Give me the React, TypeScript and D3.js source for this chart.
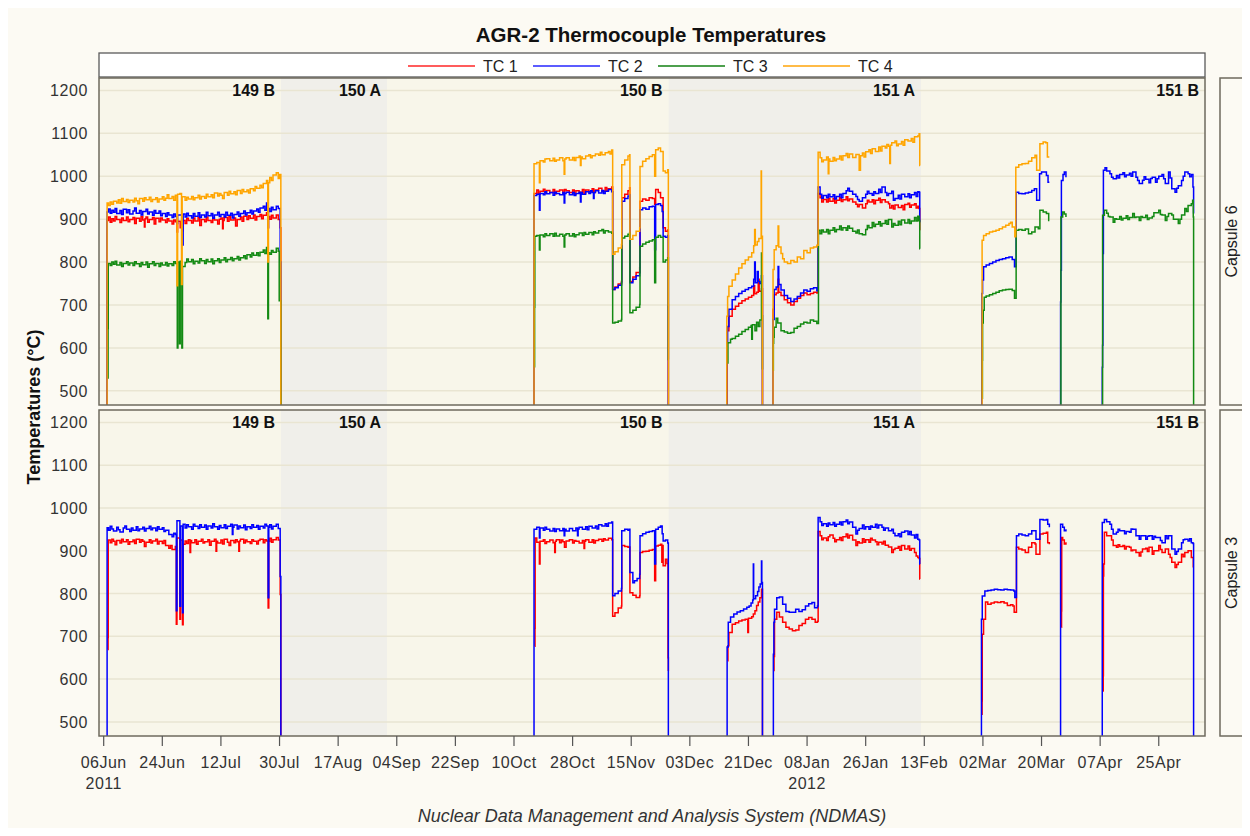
import React from "react";
import * as d3 from "d3";

type Pt = [number, number];
type Segment = Pt[];

// Day offsets below are counted from 06 Jun 2011 (UTC).
const START = Date.UTC(2011, 5, 6);
const DAY_MS = 86400000;
const dayDate = (d: number) => new Date(START + d * DAY_MS);

const chartTitle = "AGR-2 Thermocouple Temperatures";
const footerText = "Nuclear Data Management and Analysis System (NDMAS)";
const yAxisTitle = "Temperatures (°C)";
const seriesNames = ["TC 1", "TC 2", "TC 3", "TC 4"];
const seriesColors = ["#ff0000", "#0000ff", "#138a13", "#ffa500"];
const legendColors = ["#ff5c5c", "#5c5cff", "#4ea04e", "#ffbb47"];
const yTicks = [500, 600, 700, 800, 900, 1000, 1100, 1200];
const xTickDays = d3.range(0, 325, 18);
const yearLabels: { day: number; text: string }[] = [
  { day: 0, text: "2011" },
  { day: 216, text: "2012" },
];
// Reactor cycles: name, last day of the cycle, shaded (outage) or not
const cycleNames = ["149 B", "150 A", "150 B", "151 A", "151 B"];
const cycleEnds = [54.45, 87.0, 173.5, 251.0, 338.2];
const cycleShaded = [false, true, false, true, false];

// ---------------- Capsule 6 ----------------
const cap6Tc1: Segment[] = [
  [[1.0,440],[1.05,897],[1.5,905],[2,893],[2.5,901],[3,896],[3.5,906],[4,899],[5,892],[5.5,903],[6,897],[7,905],[7.5,894],[8,899],[9,904],[9.5,890],[10,902],[11,895],[11.5,906],[12,898],[12.5,882],[12.7,901],[13,905],[13.5,893],[14,899],[15,904],[15.5,889],[16,902],[17,894],[17.5,903],[18,898],[19,892],[19.5,901],[20,896],[21,889],[21.5,898],[22,894],[22.5,870],[22.7,895],[23.5,880],[24,873],[24.3,897],[25,890],[25.5,902],[26,897],[27,891],[27.5,903],[28,896],[29,904],[29.5,885],[30,899],[31,894],[31.5,905],[32,897],[33,892],[33.5,902],[34,898],[35,889],[35.5,900],[36,903],[36.5,878],[36.7,897],[37,904],[38,895],[38.5,906],[39,898],[40,903],[40.5,884],[41,899],[42,905],[42.5,895],[43,907],[44,899],[44.5,908],[45,902],[46,910],[46.5,898],[47,906],[48,911],[48.5,901],[49,909],[50,915],[50.4,880],[50.6,906],[51,900],[51.5,909],[52,903],[53,910],[53.6,899],[54.2,880],[54.4,440]],
  [[132.1,440],[132.15,960],[133,968],[133.5,958],[134,965],[135,970],[135.5,961],[136,967],[137,962],[138,969],[138.5,959],[139,965],[140,968],[141,961],[141.5,969],[142,966],[143,962],[144,968],[144.5,958],[145,966],[146,963],[147,969],[147.5,960],[148,968],[149,964],[150,971],[150.5,962],[151,968],[152,972],[153,965],[154,974],[154.5,966],[155,971],[156,975],[156.3,736],[157,742],[158,749],[159,755],[159.1,950],[160,958],[161,966],[161.5,973],[161.6,755],[162.5,765],[163.5,776],[164.6,787],[164.7,942],[165.5,947],[166.5,944],[167.5,950],[168.5,948],[169.2,935],[169.5,969],[170.3,962],[171,950],[171.8,880],[172.5,872],[173.2,875],[173.4,440]],
  [[191.4,440],[191.45,640],[192,674],[193,690],[194,697],[195,704],[196,710],[197,714],[198,718],[199,722],[199.6,745],[199.9,726],[200.5,730],[201,760],[201.3,732],[202,738],[202.3,440]],
  [[205.5,440],[205.55,690],[205.9,724],[206.5,728],[207.1,760],[207.3,730],[208,722],[209,712],[210,705],[211,700],[212,708],[213,716],[214,722],[215,728],[216,724],[217,727],[218,730],[219,728],[219.4,960],[220,950],[220.5,940],[221,946],[222,940],[222.5,949],[223,942],[224,948],[224.5,938],[225,944],[226,950],[226.5,941],[227,945],[228,952],[228.5,943],[229,947],[230,940],[231,935],[231.5,929],[232,934],[233,926],[234,936],[234.5,944],[235,940],[236,945],[236.5,936],[237,944],[238,949],[238.5,939],[239,945],[240,940],[241,936],[241.4,926],[242,932],[242.5,924],[243,933],[244,927],[245,932],[245.5,922],[246,934],[247,937],[247.5,928],[248,933],[249,936],[249.5,926],[250,930],[250.4,925],[250.6,874],[250.7,874]],
];

const cap6Tc2: Segment[] = [
  [[1.0,440],[1.05,917],[1.5,924],[2,914],[2.5,921],[3,916],[3.5,925],[4,913],[5,920],[5.5,911],[6,923],[7,915],[7.5,922],[8,912],[9,919],[9.5,926],[10,914],[11,920],[11.5,910],[12,918],[13,923],[13.5,912],[14,917],[15,909],[15.5,920],[16,914],[17,919],[17.5,908],[18,913],[19,906],[19.5,915],[20,910],[21,904],[21.5,912],[22,906],[22.5,890],[22.7,910],[24.2,840],[24.4,912],[25,905],[25.5,914],[26,908],[27,903],[27.5,913],[28,907],[29,915],[29.5,904],[30,910],[31,905],[31.5,916],[32,908],[33,913],[33.5,902],[34,910],[35,916],[35.5,906],[36,911],[37,905],[37.5,916],[38,909],[39,914],[39.5,903],[40,911],[41,917],[41.5,907],[42,913],[43,919],[43.5,910],[44,915],[45,921],[45.5,912],[46,919],[47,924],[47.5,916],[48,926],[49,930],[49.5,921],[50,938],[50.4,880],[50.6,925],[51,918],[51.5,928],[52,922],[53,930],[53.6,925],[54.2,800],[54.4,440]],
  [[132.1,440],[132.15,955],[133,958],[133.8,921],[134,960],[135,957],[135.5,964],[136,959],[137,962],[138,956],[138.5,963],[139,960],[140,957],[141,962],[141.4,938],[141.6,960],[142,963],[143,957],[144,962],[144.5,955],[145,960],[146,963],[146.4,940],[146.6,962],[147,958],[148,964],[149,960],[149.5,966],[150,962],[150.4,948],[150.6,962],[151,966],[152,961],[153,967],[153.5,960],[154,965],[155,969],[156,964],[156.3,736],[157,740],[158,746],[159,752],[159.1,942],[160,948],[161,954],[161.5,957],[161.6,752],[162.5,760],[163.5,768],[164.6,775],[164.7,922],[165.5,926],[166.5,923],[167.5,929],[168.5,930],[169.2,829],[169.5,934],[170.3,936],[171,932],[171.5,918],[171.8,860],[172.5,858],[173.2,862],[173.4,440]],
  [[191.3,440],[191.35,612],[191.6,650],[192,690],[193,712],[194,720],[195,727],[196,732],[197,736],[198,740],[199,744],[199.6,760],[199.9,800],[200.1,752],[200.7,778],[201,755],[201.5,750],[202,768],[202.3,440]],
  [[205.5,440],[205.55,666],[205.9,736],[206.5,742],[207.1,790],[207.3,748],[208,735],[209,722],[210,716],[211,708],[212,714],[213,720],[214,728],[215,735],[216,732],[217,738],[218,740],[219,733],[219.4,975],[220,958],[220.5,949],[221,955],[222,950],[222.5,958],[223,952],[224,957],[224.5,947],[225,953],[226,958],[226.5,950],[227,960],[228,966],[228.5,972],[229,965],[230,958],[231,953],[231.5,946],[232,942],[233,950],[234,958],[234.5,965],[235,960],[236,956],[236.5,964],[237,960],[238,970],[238.5,962],[239,975],[240,962],[240.5,955],[241,960],[242,965],[242.5,944],[243,948],[244,956],[244.5,947],[245,958],[246,952],[247,959],[247.5,950],[248,957],[249,962],[249.5,953],[250,964],[250.4,963],[250.6,893],[250.7,893]],
  [[269.6,440],[269.65,727],[269.9,758],[270.2,789],[271,793],[272,797],[273,800],[274,804],[275,806],[276,808],[277,810],[278,812],[279,806],[279.7,789],[280.2,963],[281,960],[282,959],[283,961],[284,963],[285,967],[285.8,971],[286.5,944],[287.4,1006],[288,1010],[289,1010],[289.5,1002],[290,986],[290.4,986]],
  [[293.8,440],[293.85,707],[293.95,781],[294.1,990],[294.6,1004],[295,1010],[295.5,998]],
  [[306.6,440],[306.65,555],[306.75,606],[306.85,820],[307,1014],[307.5,1020],[308,1012],[309,1006],[309.5,998],[310,994],[311,1002],[311.5,996],[312,1004],[313,1008],[313.5,999],[314,1003],[315,1007],[315.5,1000],[316,1010],[317,998],[317.5,990],[318,983],[319,991],[319.5,999],[320,993],[321,985],[321.5,995],[322,998],[323,986],[323.5,994],[324,1000],[325,1004],[325.5,994],[326,983],[327,1010],[327.5,996],[328,971],[329,963],[329.5,972],[330,978],[331,990],[331.5,1000],[332,1010],[333,1006],[333.5,999],[334,1004],[334.5,975],[334.7,913]],
];

const cap6Tc3: Segment[] = [
  [[1.3,530],[1.35,645],[1.4,797],[2,792],[2.5,800],[3,795],[3.5,802],[4,793],[5,799],[5.5,790],[6,797],[7,801],[7.5,793],[8,798],[9,792],[9.5,801],[10,796],[11,790],[11.5,799],[12,794],[13,800],[13.5,788],[14,796],[15,801],[15.5,792],[16,797],[17,790],[17.5,798],[18,793],[19,799],[19.5,791],[20,796],[21,792],[21.5,801],[22,797],[22.6,600],[22.8,800],[23.3,610],[23.5,802],[24.0,600],[24.2,790],[25,799],[25.5,807],[26,801],[27,806],[27.5,796],[28,802],[29,798],[29.5,808],[30,803],[31,797],[31.5,806],[32,801],[33,807],[33.5,796],[34,803],[35,808],[35.5,799],[36,805],[37,810],[37.5,801],[38,806],[39,811],[39.5,803],[40,808],[41,813],[41.5,805],[42,810],[43,815],[43.5,808],[44,817],[45,812],[45.5,821],[46,816],[47,822],[47.5,815],[48,823],[49,828],[49.5,820],[50,834],[50.4,668],[50.6,822],[51,818],[51.5,827],[52,823],[53,832],[53.6,825],[53.9,710],[54.4,490],[54.45,440]],
  [[132.3,556],[132.33,695],[132.4,860],[133,862],[133.8,828],[134,863],[135,859],[135.5,866],[136,862],[137,866],[138,860],[138.5,867],[139,861],[140,865],[141,860],[141.4,835],[141.6,863],[142,866],[143,861],[144,866],[144.5,859],[145,864],[146,868],[147,862],[147.5,869],[148,865],[149,869],[150,864],[150.5,871],[151,868],[152,873],[153,876],[153.5,868],[154,873],[155,870],[156,867],[156.3,658],[157,660],[158,663],[159,666],[159.1,856],[160,860],[161,865],[161.5,868],[161.6,682],[162.5,688],[163.5,695],[164.6,701],[164.7,837],[165.5,842],[166.5,846],[167.5,849],[168.5,852],[169.2,752],[169.5,858],[170.3,862],[171,858],[171.8,800],[172.5,805],[173.2,810],[173.4,573],[173.45,573]],
  [[191.5,565],[191.7,612],[192.5,620],[193,622],[194,627],[195,632],[196,638],[197,643],[198,648],[198.8,652],[199,620],[199.2,654],[200,640],[200.5,660],[201,650],[201.5,665],[202,821],[202.1,675],[202.3,550]],
  [[205.6,548],[205.65,611],[205.75,625],[205.9,648],[206.5,669],[207,658],[208,640],[209,637],[210,634],[211,636],[212,646],[213,650],[214,656],[215,660],[216,658],[217,665],[218,662],[219,657],[219.5,874],[220,866],[220.5,875],[221,870],[222,876],[222.5,866],[223,874],[224,880],[224.5,871],[225,876],[226,884],[226.5,875],[227,880],[228,874],[228.5,884],[229,879],[230,872],[231,868],[231.5,875],[232,866],[233,864],[234,876],[234.5,885],[235,880],[236,892],[236.5,883],[237,888],[238,894],[238.5,884],[239,890],[240,897],[240.5,888],[241,899],[242,882],[242.5,890],[243,886],[244,895],[244.5,887],[245,898],[246,891],[247,899],[247.5,890],[248,896],[249,904],[249.5,896],[250,907],[250.4,897],[250.6,831],[250.7,831]],
  [[269.8,483],[269.85,571],[269.9,658],[270.1,688],[270.4,718],[271,721],[272,724],[273,727],[274,730],[275,733],[276,735],[277,736],[278,737],[279,734],[279.7,716],[280.2,874],[281,876],[282,874],[283,877],[284,866],[285,870],[286,882],[287,878],[287.5,921],[288.5,917],[289.5,913],[290.2,897],[290.4,897]],
  [[293.9,440],[293.95,905],[294.5,917],[295,912],[295.5,905]],
  [[306.7,440],[306.75,909],[307.3,921],[308,914],[308.5,906],[309,905],[310,893],[310.5,901],[311,900],[312,906],[312.5,898],[313,902],[314,908],[314.5,899],[315,904],[316,913],[316.5,904],[317,905],[318,897],[318.5,906],[319,904],[320,909],[320.5,899],[321,903],[322,906],[322.5,915],[323,915],[324,921],[324.5,911],[325,910],[326,897],[326.5,906],[327,913],[328,910],[328.5,900],[329,900],[330,890],[330.5,900],[331,910],[332,925],[332.5,918],[333,932],[334,936],[334.4,944],[334.6,905],[334.7,440]],
];

const cap6Tc4: Segment[] = [
  [[1.0,440],[1.05,938],[1.5,932],[2,940],[2.5,935],[3,942],[4,938],[4.5,945],[5,937],[5.5,948],[6,941],[7,946],[7.5,939],[8,944],[9,940],[9.5,949],[10,943],[10.5,936],[11,948],[12,942],[12.5,950],[13,945],[14,951],[14.5,941],[15,946],[16,950],[16.5,940],[17,947],[18,952],[18.5,944],[19,949],[19.5,957],[20,948],[21,953],[21.5,944],[22,956],[22.5,745],[22.7,958],[23.4,960],[23.9,748],[24.1,952],[25,944],[25.5,951],[26,947],[27,953],[27.5,945],[28,950],[29,956],[29.5,947],[30,953],[31,949],[31.5,958],[32,952],[33,957],[33.5,950],[34,961],[35,954],[35.5,960],[36,956],[36.5,948],[37,962],[38,956],[38.5,965],[39,959],[40,964],[40.5,957],[41,967],[42,960],[42.5,969],[43,964],[44,968],[44.5,961],[45,971],[46,966],[46.5,976],[47,972],[48,979],[48.5,973],[49,983],[50,990],[50.4,800],[50.6,985],[51,997],[51.5,990],[52,1003],[53,1008],[53.6,995],[54,1004],[54.4,440]],
  [[132.1,440],[132.15,1029],[133,1032],[133.8,985],[134,1036],[135,1033],[135.5,1040],[136,1041],[137,1036],[138,1042],[138.5,1035],[139,1038],[140,1043],[141,1036],[141.4,1005],[141.6,1040],[142,1043],[143,1038],[144,1044],[144.5,1037],[145,1044],[146,1047],[146.4,1025],[146.6,1045],[147,1041],[148,1047],[149,1050],[149.5,1043],[150,1048],[151,1052],[152,1049],[152.5,1056],[153,1050],[154,1055],[155,1058],[155.5,1052],[156,1061],[156.3,818],[157,824],[158,833],[159,841],[159.1,1027],[160,1038],[161,1047],[161.5,1050],[161.6,853],[162.5,862],[163.5,872],[164.6,880],[164.7,1023],[165.5,1035],[166.5,1041],[167.5,1046],[168.5,1050],[169.2,1000],[169.5,1062],[170.3,1066],[171,1058],[171.8,1012],[172.5,1008],[173.2,1015],[173.4,700],[173.45,440]],
  [[191.3,440],[191.35,674],[191.6,720],[192,744],[193,758],[194,772],[195,786],[196,796],[197,805],[198,812],[199,822],[199.6,838],[199.9,876],[200.1,840],[200.7,848],[201.2,855],[201.9,1012],[202,860],[202.3,440]],
  [[205.5,440],[205.55,783],[205.9,829],[206.5,838],[207.1,884],[207.3,835],[208,820],[208.5,808],[209,800],[210,797],[211,804],[212,800],[213,812],[214,808],[215,827],[216,822],[217,833],[218,835],[219,839],[219.4,1056],[220,1043],[220.5,1034],[221,1038],[222,1045],[222.5,1006],[222.7,1040],[223,1035],[224,1044],[224.5,1036],[225,1040],[226,1047],[226.5,1038],[227,1048],[228,1053],[228.5,1044],[229,1052],[230,1044],[231,1051],[232,1014],[232.4,1048],[233,1054],[233.5,1045],[234,1057],[235,1062],[235.5,1053],[236,1064],[237,1058],[238,1068],[238.5,1059],[239,1070],[240,1066],[240.5,1074],[241,1070],[241.4,1030],[241.6,1072],[242,1078],[243,1082],[243.5,1071],[244,1075],[245,1081],[245.5,1072],[246,1085],[247,1082],[248,1088],[248.5,1079],[249,1092],[250,1094],[250.4,1099],[250.6,1025],[250.7,1025]],
  [[269.7,440],[269.75,851],[270.2,862],[271,866],[272,870],[273,872],[274,874],[275,878],[276,882],[277,886],[278,890],[278.5,893],[279,882],[279.8,859],[280.1,1021],[281,1027],[282,1029],[283,1030],[284,1035],[285,1043],[286,1049],[286.5,1014],[287.5,1076],[288.5,1080],[289.3,1078],[289.8,1045],[290.4,1045]],
];

// ---------------- Capsule 3 ----------------
const cap3Tc1: Segment[] = [
  [[1.3,669],[1.35,697],[1.4,925],[2,919],[2.5,927],[3,922],[3.5,914],[4,924],[5,918],[5.5,927],[6,921],[7,926],[7.5,915],[8,921],[9,925],[9.5,917],[10,927],[11,920],[11.5,926],[12,922],[12.5,910],[13,920],[14,926],[14.5,918],[15,923],[16,927],[16.5,916],[17,922],[18,917],[18.5,924],[19,912],[20,906],[20.5,912],[21,903],[22,910],[22.3,728],[22.5,930],[23.4,740],[23.6,925],[24.2,727],[24.4,915],[25,923],[25.5,917],[26,926],[26.5,896],[26.7,924],[27,919],[28,926],[28.5,915],[29,922],[30,927],[30.5,918],[31,921],[32,926],[32.5,913],[33,922],[34,927],[34.5,899],[34.7,922],[35,918],[36,925],[36.5,916],[37,927],[38,920],[38.5,912],[39,924],[40,919],[40.5,926],[41,921],[41.5,899],[41.7,923],[42,927],[43,918],[43.5,925],[44,921],[45,917],[45.5,926],[46,922],[47,916],[47.5,924],[48,927],[49,919],[49.5,926],[50,923],[50.5,766],[50.7,922],[51,929],[51.5,920],[52,926],[53,931],[53.6,925],[54.2,798],[54.4,440]],
  [[132.4,677],[132.45,719],[132.5,930],[133,920],[133.8,869],[134,922],[135,926],[135.5,917],[136,921],[137,925],[138,919],[138.5,896],[138.7,922],[139,926],[140,919],[140.5,925],[141,921],[141.5,908],[142,923],[143,926],[144,918],[144.5,924],[145,922],[146,918],[147,924],[147.5,905],[147.7,922],[148,926],[149,920],[150,926],[150.5,918],[151,924],[152,927],[153,922],[153.5,928],[154,925],[155,929],[156,926],[156.3,747],[157,755],[158,766],[159,771],[159.1,912],[160,910],[161,908],[161.5,909],[161.6,802],[162.5,796],[163.5,791],[164.6,795],[164.7,896],[165.5,898],[166.5,899],[167.5,901],[168.5,903],[169.2,830],[169.5,911],[170.3,913],[171,915],[171.4,873],[171.6,912],[171.8,865],[172.5,880],[173,870],[173.3,650],[173.4,619]],
  [[191.6,643],[191.7,678],[192,709],[193,728],[194,732],[195,736],[196,738],[197,740],[197.8,709],[198,742],[199,746],[199.5,752],[200,760],[200.5,772],[201,780],[201.5,790],[202,810],[202.3,440]],
  [[205.8,620],[205.85,653],[206,740],[206.7,756],[207.5,745],[208.5,733],[209.5,721],[210.5,717],[211.5,713],[212.5,715],[213.5,725],[214.5,730],[215.5,740],[216.5,744],[217.5,740],[218.5,733],[219.2,735],[219.4,945],[220,935],[220.5,926],[221,930],[222,924],[222.5,933],[223,937],[224,929],[224.5,921],[225,926],[226,931],[226.5,924],[227,933],[228,939],[228.5,930],[229,936],[230,925],[231,912],[231.5,921],[232,918],[233,928],[233.5,920],[234,926],[235,920],[235.5,929],[236,925],[237,921],[237.5,914],[238,920],[239,916],[239.5,922],[240,913],[241,909],[242,896],[242.5,903],[243,906],[244,910],[244.5,901],[245,912],[246,904],[247,911],[247.5,901],[248,905],[249,896],[249.5,888],[250,884],[250.4,882],[250.6,834],[250.7,834]],
  [[269.7,518],[269.75,549],[269.8,705],[270.2,740],[270.8,780],[271.5,775],[272.5,778],[273.5,780],[274.5,779],[275.5,781],[276.5,778],[277.5,772],[278.5,774],[279.2,771],[279.6,756],[280.3,908],[281,904],[282,902],[283,896],[284,908],[285,919],[286,916],[286.3,892],[287.5,939],[288.5,941],[289.5,943],[289.9,919],[290.4,915]],
  [[294.1,721],[294.15,759],[294.2,931],[294.5,925],[295,916],[295.5,920]],
  [[306.9,572],[306.95,608],[307.0,841],[307.1,869],[307.3,943],[308,935],[309,935],[309.5,925],[310,912],[311,908],[311.5,914],[312,910],[313,912],[313.5,904],[314,910],[315,908],[315.5,900],[316,902],[317,896],[318,888],[318.5,897],[319,904],[320,906],[320.5,898],[321,908],[322,892],[322.5,900],[323,900],[324,912],[324.5,903],[325,896],[326,904],[327,892],[327.5,884],[328,873],[329,861],[329.5,868],[330,873],[331,892],[331.5,886],[332,896],[333,900],[334,884],[334.6,861]],
];

const cap3Tc2: Segment[] = [
  [[1.0,440],[1.05,954],[1.5,948],[2,957],[2.5,951],[3,946],[4,955],[4.5,949],[5,944],[6,953],[6.5,958],[7,950],[8,945],[8.5,953],[9,948],[10,956],[10.5,947],[11,951],[12,955],[12.5,946],[13,952],[14,957],[14.5,949],[15,953],[16,947],[16.5,956],[17,950],[18,954],[18.5,945],[19,948],[20,938],[21,933],[21.5,941],[22,938],[22.3,760],[22.5,970],[23.4,770],[23.6,958],[24.2,755],[24.4,962],[25,953],[25.5,961],[26,956],[27,950],[27.5,962],[28,957],[29,952],[29.5,961],[30,955],[31,960],[31.5,950],[32,958],[33,953],[33.5,963],[34,956],[35,950],[35.5,959],[36,954],[37,961],[37.5,952],[38,957],[39,962],[39.5,938],[39.7,955],[40,960],[41,951],[41.5,958],[42,954],[43,960],[43.5,949],[44,956],[45,952],[45.5,961],[46,955],[47,959],[47.5,950],[48,957],[49,953],[49.5,962],[50,958],[50.5,790],[50.7,955],[51,961],[51.5,951],[52,957],[53,962],[53.6,952],[54.2,840],[54.4,440]],
  [[132.1,440],[132.15,950],[133,955],[133.8,930],[134,953],[135,948],[135.5,955],[136,950],[137,946],[138,952],[138.5,945],[139,951],[140,947],[141,952],[141.4,935],[141.6,950],[142,946],[143,952],[144,947],[145,953],[145.5,935],[145.7,951],[146,955],[147,950],[148,956],[148.5,949],[149,957],[150,953],[151,958],[151.5,951],[152,961],[153,958],[154,963],[154.5,957],[155,965],[156,967],[156.3,795],[157,800],[158,806],[159,812],[159.1,947],[160,950],[161,948],[161.5,950],[161.6,849],[162.5,825],[163,830],[163.8,835],[164.6,845],[164.7,935],[165.5,940],[166.5,943],[167.5,945],[168.5,947],[169.2,869],[169.5,950],[170.3,955],[171,958],[171.5,940],[171.8,923],[172.5,925],[173.2,918],[173.4,440]],
  [[191.4,440],[191.45,675],[191.8,733],[192.5,745],[193.5,752],[194.5,757],[195.5,760],[196.5,764],[197.5,768],[198.2,771],[198.8,778],[199.3,785],[199.5,869],[199.6,788],[200.2,795],[200.8,805],[201.2,815],[201.6,822],[202,876],[202.1,826],[202.3,440]],
  [[205.6,440],[205.65,658],[205.8,733],[206,763],[206.7,790],[207.5,792],[208.5,775],[209.5,758],[210.5,756],[211.5,756],[212.5,763],[213.5,758],[214.5,762],[215.5,771],[216.5,776],[217.5,779],[218.3,767],[219.2,771],[219.4,978],[220,968],[220.5,959],[221,963],[222,957],[222.5,965],[223,961],[224,966],[224.5,957],[225,962],[226,967],[226.5,960],[227,968],[228,972],[228.5,963],[229,967],[230,955],[231,939],[231.5,948],[232,952],[233,960],[233.5,951],[234,956],[235,950],[235.5,958],[236,955],[237,962],[237.5,953],[238,960],[239,955],[239.5,948],[240,953],[241,947],[242,950],[242.5,941],[243,935],[244,940],[244.5,933],[245,943],[246,946],[247,938],[247.5,945],[248,937],[249,930],[249.5,938],[250,927],[250.4,925],[250.6,869],[250.7,869]],
  [[269.5,440],[269.55,740],[269.8,794],[270.6,806],[271.5,807],[272.5,808],[273.5,810],[274.5,809],[275.5,808],[276.5,810],[277.5,809],[278.5,808],[279.5,806],[279.8,791],[280.3,935],[281,939],[282,937],[283,935],[284,939],[285,947],[286,947],[286.3,927],[287.5,973],[288.5,972],[289.5,973],[289.9,962],[290.4,955]],
  [[293.8,440],[293.85,962],[294.5,955],[295,947],[295.5,950]],
  [[306.6,440],[306.65,966],[307.3,973],[308,968],[309,962],[309.5,950],[310,939],[311,943],[311.5,950],[312,947],[313,947],[313.5,940],[314,945],[315,943],[315.5,951],[316,950],[317,935],[318,927],[318.5,935],[319,935],[320,927],[320.5,934],[321,935],[322,927],[322.5,934],[323,931],[324,931],[324.5,924],[325,919],[326,935],[326.5,928],[327,935],[328,904],[329,892],[329.5,898],[330,904],[331,919],[331.5,926],[332,927],[333,923],[333.5,928],[334,919],[334.5,917],[334.7,440]],
];

const capsuleLabels = ["Capsule 6", "Capsule 3"];
const capsuleSeries: Segment[][][] = [
  [cap6Tc1, cap6Tc2, cap6Tc3, cap6Tc4],
  [cap3Tc1, cap3Tc2],
];

const FONT = "'Liberation Sans', Arial, Helvetica, sans-serif";

export default function App() {
  const W = 1234;
  const H = 828;
  const plotL = 99;
  const plotR = 1205;
  const panelBoxes = [
    { top: 78, bottom: 405 },
    { top: 410, bottom: 736 },
  ];

  const x = d3
    .scaleUtc()
    .domain([dayDate(-1.44), dayDate(338.2)])
    .range([plotL, plotR]);
  const fmt = d3.utcFormat("%d%b");

  const bg = "#fcfaf3";
  const panelFill = "#f8f6ea";
  const shadeFill = "#f0efea";
  const gridColor = "#e9e5d2";
  const frame = "#6e6a5e";

  const cycleStarts = [-1.44, ...cycleEnds.slice(0, -1)];

  return (
    <svg
      width={W}
      height={H}
      style={{ display: "block", marginBottom: -8 }}
      fontFamily={FONT}
    >
      <g transform="translate(-8,-8)">
        <rect x={8} y={8} width={W} height={H} fill={bg} />

        {/* title */}
        <text
          x={651}
          y={41.5}
          textAnchor="middle"
          fontSize={20.5}
          fontWeight="bold"
          fill="#111"
        >
          {chartTitle}
        </text>

        {/* legend */}
        <rect x={plotL} y={53} width={plotR - plotL} height={24} fill="#ffffff" stroke="#5a5a5a" strokeWidth={1.3} />
        {seriesNames.map((name, i) => {
          const x1 = 408 + 125 * i;
          return (
            <g key={name}>
              <line x1={x1} x2={x1 + 67} y1={66} y2={66} stroke={legendColors[i]} strokeWidth={2} />
              <text x={x1 + 75} y={71.5} fontSize={16} fill="#222">
                {name}
              </text>
            </g>
          );
        })}

        {panelBoxes.map((pb, pi) => {
          const y = d3.scaleLinear().domain([467, 1229]).range([pb.bottom, pb.top]);
          const line = d3
            .line<Pt>()
            .x((d) => x(dayDate(d[0])))
            .y((d) => y(d[1]))
            .curve(d3.curveStepAfter);
          const clipId = `clip-panel-${pi}`;
          const series = capsuleSeries[pi];
          return (
            <g key={pi}>
              <defs>
                <clipPath id={clipId}>
                  <rect x={plotL} y={pb.top} width={plotR - plotL} height={pb.bottom - pb.top} />
                </clipPath>
              </defs>
              <rect x={plotL} y={pb.top} width={plotR - plotL} height={pb.bottom - pb.top} fill={panelFill} />
              {cycleNames.map((c, ci) =>
                cycleShaded[ci] ? (
                  <rect
                    key={c}
                    x={x(dayDate(cycleStarts[ci]))}
                    y={pb.top}
                    width={x(dayDate(cycleEnds[ci])) - x(dayDate(cycleStarts[ci]))}
                    height={pb.bottom - pb.top}
                    fill={shadeFill}
                  />
                ) : null
              )}
              {yTicks.map((v) => (
                <line key={v} x1={plotL} x2={plotR} y1={y(v)} y2={y(v)} stroke={gridColor} strokeWidth={1.5} />
              ))}
              <g clipPath={`url(#${clipId})`}>
                {series.map((segs, si) =>
                  segs.map((seg, k) => (
                    <path
                      key={`${si}-${k}`}
                      d={line(seg) || ""}
                      fill="none"
                      stroke={seriesColors[si]}
                      strokeWidth={1.5}
                    />
                  ))
                )}
              </g>
              {cycleNames.map((c, ci) => (
                <text
                  key={c}
                  x={x(dayDate(cycleEnds[ci])) - 6}
                  y={pb.top + 18}
                  textAnchor="end"
                  fontSize={16}
                  fontWeight="bold"
                  fill="#111"
                >
                  {c}
                </text>
              ))}
              <rect
                x={plotL}
                y={pb.top}
                width={plotR - plotL}
                height={pb.bottom - pb.top}
                fill="none"
                stroke={frame}
                strokeWidth={1.5}
              />
              {yTicks.map((v) => (
                <text
                  key={v}
                  x={88}
                  y={y(v) + 6}
                  textAnchor="end"
                  fontSize={16}
                  letterSpacing={0.6}
                  fill="#333"
                >
                  {v}
                </text>
              ))}
              {/* capsule strip */}
              <rect
                x={1220}
                y={pb.top}
                width={23}
                height={pb.bottom - pb.top}
                fill={bg}
                stroke={frame}
                strokeWidth={1.5}
              />
              <text
                transform={`translate(${1237},${(pb.top + pb.bottom) / 2}) rotate(-90)`}
                textAnchor="middle"
                fontSize={16}
                fill="#222"
              >
                {capsuleLabels[pi]}
              </text>
            </g>
          );
        })}

        {/* x axis */}
        {xTickDays.map((d) => {
          const xx = x(dayDate(d));
          return (
            <g key={d}>
              <line x1={xx} x2={xx} y1={736} y2={746} stroke="#555" strokeWidth={1.2} />
              <text x={xx} y={768} textAnchor="middle" fontSize={16} letterSpacing={0.5} fill="#333">
                {fmt(dayDate(d))}
              </text>
            </g>
          );
        })}
        {yearLabels.map((yl) => (
          <text
            key={yl.text}
            x={x(dayDate(yl.day))}
            y={789}
            textAnchor="middle"
            fontSize={16}
            letterSpacing={0.5}
            fill="#333"
          >
            {yl.text}
          </text>
        ))}

        {/* y axis title */}
        <text
          transform="translate(40,407) rotate(-90)"
          textAnchor="middle"
          fontSize={18}
          fontWeight="bold"
          fill="#111"
        >
          {yAxisTitle}
        </text>

        {/* footnote */}
        <text x={652} y={821.5} textAnchor="middle" fontSize={18} fontStyle="italic" fill="#333">
          {footerText}
        </text>
      </g>
    </svg>
  );
}
